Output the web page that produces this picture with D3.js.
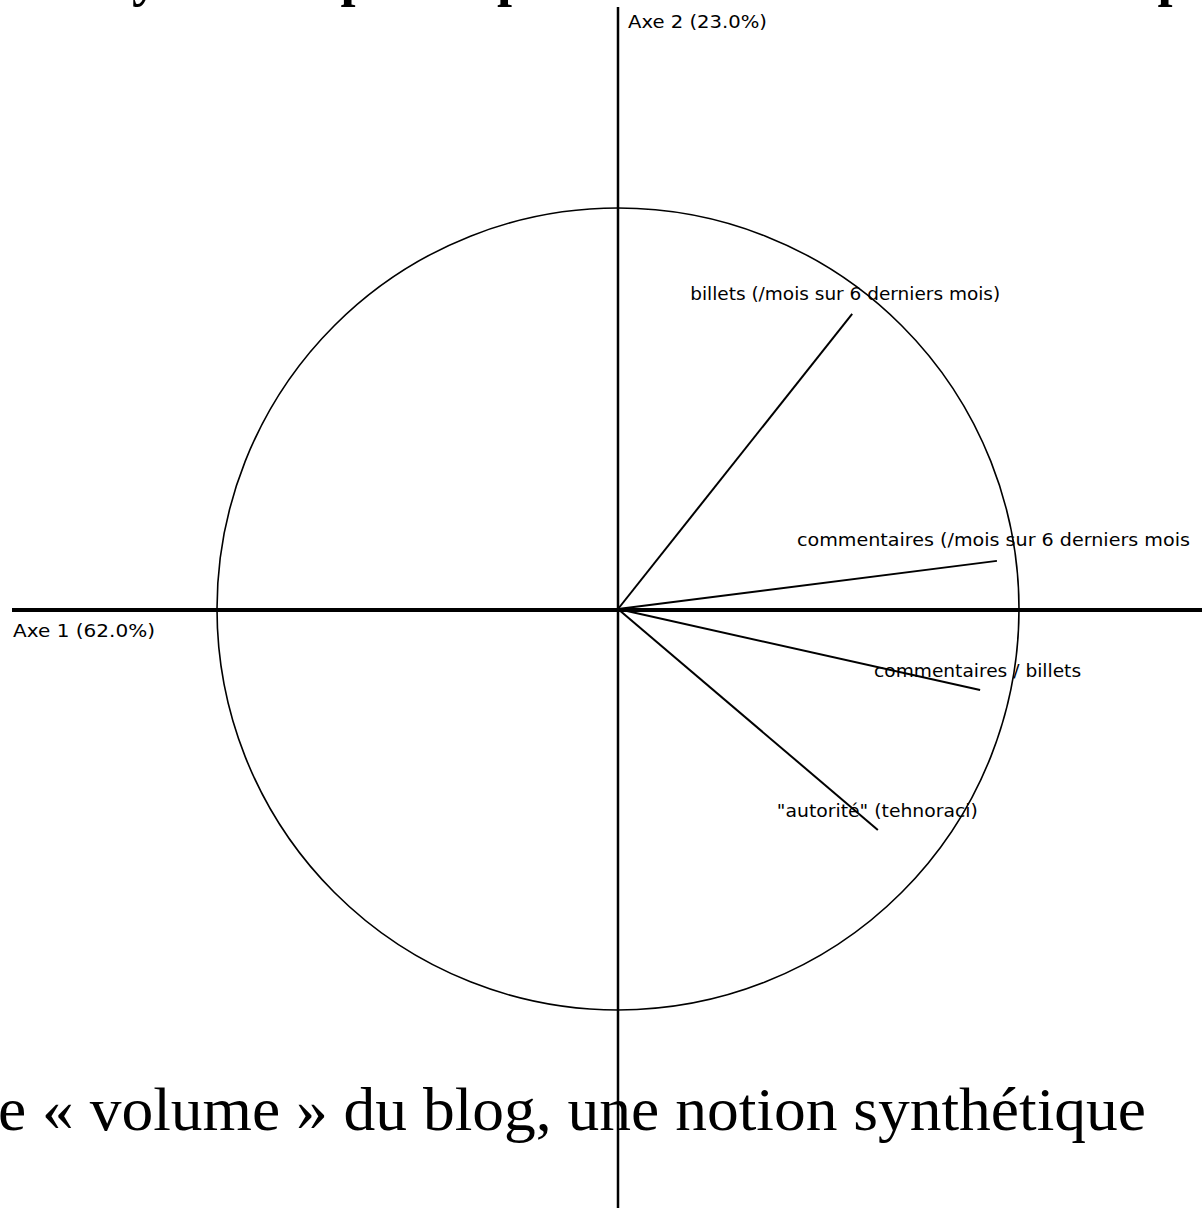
<!DOCTYPE html>
<html>
<head>
<meta charset="utf-8">
<script src="https://cdn.jsdelivr.net/npm/d3@7"></script>
<style>
  html, body { margin: 0; padding: 0; background: #fff; overflow: hidden; }
  svg { display: block; }
</style>
</head>
<body>
<svg id="chart" width="1202" height="1208"></svg>
<script>
// ---- data ----
const variables = [
  "billets (/mois sur 6 derniers mois)",
  "commentaires (/mois sur 6 derniers mois",
  "commentaires / billets",
  "\"autorité\" (tehnoraci)"
];
const axis1Values = [0.584, 0.945, 0.903, 0.648];
const axis2Values = [0.736, 0.120, -0.202, -0.551];
const axisLabels = ["Axe 1 (62.0%)", "Axe 2 (23.0%)"];
const titleText = "Analyse de la presse par les internautes dans le top";
const captionText = "e « volume » du blog, une notion synthétique";

// ---- layout ----
const W = 1202, H = 1208;
const cx = 618, cy = 609, R = 401;
const labelOffsets = [[-162, -14], [-200, -15], [-106, -13], [-101, -13]];
const labelWidths = [310, 393, 207, 201];

const svg = d3.select("#chart");
const x = d3.scaleLinear().domain([-1, 1]).range([cx - R, cx + R]);
const y = d3.scaleLinear().domain([-1, 1]).range([cy + R, cy - R]);

// title (mostly above the visible area)
svg.append("text")
  .attr("x", 21).attr("y", -5)
  .attr("font-family", "'Liberation Serif', 'Times New Roman', serif")
  .attr("font-weight", "bold").attr("font-size", 54)
  .attr("fill", "#000")
  .text(titleText);

// unit circle
svg.append("circle")
  .attr("cx", x(0)).attr("cy", y(0)).attr("r", x(1) - x(0))
  .attr("fill", "none").attr("stroke", "#000").attr("stroke-width", 1.6);

// axes
svg.append("line")
  .attr("x1", 12).attr("x2", W)
  .attr("y1", y(0) + 1).attr("y2", y(0) + 1)
  .attr("stroke", "#000").attr("stroke-width", 4);
svg.append("line")
  .attr("x1", x(0)).attr("x2", x(0))
  .attr("y1", 7).attr("y2", H)
  .attr("stroke", "#000").attr("stroke-width", 2.5);

// vectors
const vecs = variables.map((name, i) => ({ name, a: axis1Values[i], b: axis2Values[i], i }));
svg.append("g").selectAll("line")
  .data(vecs).join("line")
  .attr("x1", x(0)).attr("y1", y(0))
  .attr("x2", d => x(d.a)).attr("y2", d => y(d.b))
  .attr("stroke", "#000").attr("stroke-width", 2);

const labelFont = "'DejaVu Sans', Verdana, sans-serif";
svg.append("g").selectAll("text")
  .data(vecs).join("text")
  .attr("x", d => x(d.a) + labelOffsets[d.i][0])
  .attr("y", d => y(d.b) + labelOffsets[d.i][1])
  .attr("font-family", labelFont).attr("font-size", 18.5)
  .attr("fill", "#000")
  .attr("textLength", d => labelWidths[d.i])
  .attr("lengthAdjust", "spacingAndGlyphs")
  .text(d => d.name);

// axis labels
svg.append("text")
  .attr("x", 13).attr("y", 637)
  .attr("font-family", labelFont).attr("font-size", 18.5)
  .attr("textLength", 142).attr("lengthAdjust", "spacingAndGlyphs")
  .text(axisLabels[0]);
svg.append("text")
  .attr("x", 628).attr("y", 28)
  .attr("font-family", labelFont).attr("font-size", 18.5)
  .attr("textLength", 139).attr("lengthAdjust", "spacingAndGlyphs")
  .text(axisLabels[1]);

// caption
svg.append("text")
  .attr("x", -2).attr("y", 1130)
  .attr("font-family", "'Liberation Serif', 'Times New Roman', serif")
  .attr("font-size", 62).attr("fill", "#000")
  .attr("textLength", 1148).attr("lengthAdjust", "spacingAndGlyphs")
  .text(captionText);
</script>
</body>
</html>
